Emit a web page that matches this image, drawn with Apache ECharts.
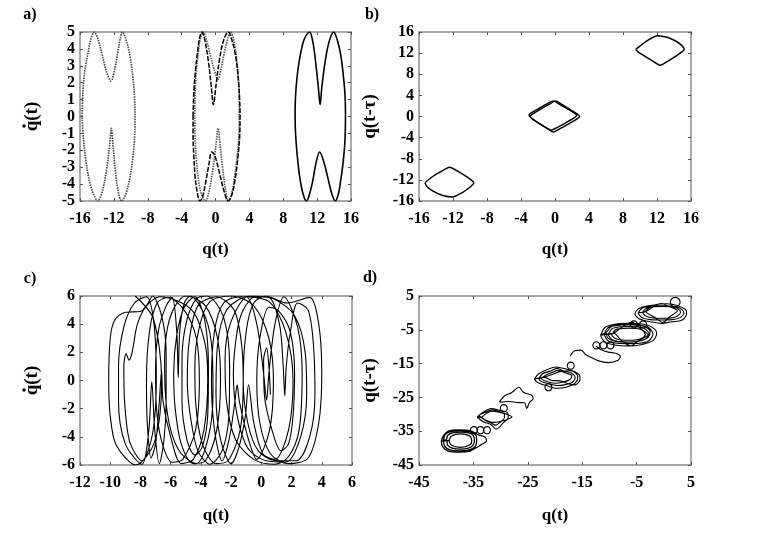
<!DOCTYPE html>
<html><head><meta charset="utf-8">
<script src="https://cdn.jsdelivr.net/npm/echarts@6/dist/echarts.min.js"></script>
<style>html,body{margin:0;padding:0;background:#fff}#c{width:767px;height:545px}</style>
</head><body><div id="c"></div>
<script>
// ---------- panel a: q(t) vs q'(t) ----------
const aTicksX = {min:-16, max:16, interval:4};
const aTicksY = {min:-5, max:5, interval:1};
const aLeft = [[-15.75,0],[-15.65,1.5],[-15.4,2.8],[-15.0,3.9],[-14.7,4.6],[-14.3,5],[-13.9,4.6],[-13.4,3.7],[-12.9,2.7],[-12.35,2.1],[-11.9,2.8],[-11.5,3.9],[-11.25,4.6],[-11.0,5],[-10.6,4.6],[-10.1,3.6],[-9.75,2.3],[-9.55,1],[-9.5,0],[-9.55,-1.2],[-9.75,-2.4],[-10.1,-3.6],[-10.6,-4.6],[-11.1,-5],[-11.5,-4.4],[-11.85,-3.1],[-12.1,-1.7],[-12.3,-0.7],[-12.5,-1.7],[-12.85,-3.1],[-13.35,-4.4],[-13.9,-5],[-14.4,-4.6],[-14.9,-3.8],[-15.3,-2.6],[-15.6,-1.3],[-15.75,0]];
const aMidBlack = [[-2.65,0],[-2.55,1.5],[-2.35,2.8],[-2.1,3.9],[-1.9,4.6],[-1.6,5],[-1.25,4.5],[-0.85,3.3],[-0.5,1.8],[-0.25,0.7],[0.05,1.8],[0.45,3.3],[0.95,4.5],[1.5,5],[1.95,4.5],[2.4,3.5],[2.7,2.2],[2.85,1],[2.9,0],[2.85,-1.2],[2.65,-2.4],[2.35,-3.6],[1.95,-4.6],[1.5,-5],[1.0,-4.4],[0.4,-3.2],[-0.1,-2.3],[-0.45,-2.1],[-0.8,-2.9],[-1.2,-4.0],[-1.55,-4.8],[-1.85,-5],[-2.15,-4.5],[-2.4,-3.6],[-2.55,-2.4],[-2.65,-1.2],[-2.65,0]];
const aMidGray = [[-2.45,0],[-2.4,1.5],[-2.25,2.8],[-2.0,3.9],[-1.8,4.6],[-1.45,5],[-1.05,4.5],[-0.55,3.5],[-0.05,2.6],[0.3,2.2],[0.65,2.8],[1.05,3.8],[1.45,4.6],[1.8,5],[2.2,4.4],[2.5,3.4],[2.7,2.2],[2.8,1],[2.8,0],[2.75,-1.2],[2.55,-2.4],[2.25,-3.6],[1.9,-4.6],[1.55,-5],[1.2,-4.4],[0.85,-3.1],[0.55,-1.7],[0.3,-0.7],[0.05,-1.7],[-0.3,-3.1],[-0.75,-4.4],[-1.2,-5],[-1.65,-4.6],[-2.0,-3.8],[-2.25,-2.6],[-2.4,-1.3],[-2.45,0]];
const aRight = [[15.35,0],[15.28,-1.5],[15.05,-2.8],[14.75,-3.9],[14.5,-4.6],[14.15,-5],[13.75,-4.6],[13.3,-3.7],[12.8,-2.7],[12.3,-2.1],[11.85,-2.8],[11.45,-3.9],[11.1,-4.6],[10.75,-5],[10.35,-4.6],[9.95,-3.6],[9.65,-2.3],[9.45,-1],[9.4,0],[9.45,1.2],[9.65,2.4],[10.0,3.6],[10.5,4.6],[11.1,5],[11.5,4.4],[11.85,3.1],[12.15,1.7],[12.35,0.7],[12.55,1.7],[12.9,3.1],[13.4,4.4],[13.95,5],[14.4,4.5],[14.8,3.6],[15.1,2.4],[15.3,1.2],[15.35,0]];

// ---------- panel b: q(t) vs q(t-tau) ----------
const bTicksX = {min:-16, max:16, interval:4};
const bTicksY = {min:-16, max:16, interval:4};
const bUpper = [[9.5,12.7],[10.2,13.6],[11.0,14.5],[12.0,15.3],[13.2,15.0],[14.3,14.2],[15.0,13.3],[15.2,12.7],[14.8,12.1],[14.0,11.2],[13.2,10.4],[12.4,9.7],[11.5,10.5],[10.5,11.5],[9.8,12.2],[9.5,12.7]];
const bLower = [[-15.3,-12.55],[-14.6,-11.6],[-13.5,-10.5],[-12.4,-9.6],[-11.5,-10.3],[-10.5,-11.3],[-9.8,-12.1],[-9.55,-12.6],[-10.1,-13.5],[-10.9,-14.4],[-12.05,-15.25],[-13.3,-14.9],[-14.4,-14.1],[-15.1,-13.2],[-15.3,-12.55]];
const bCenter1 = [[-2.95,0.05],[-2.6,0.5],[-1.6,1.5],[-0.6,2.4],[0.1,2.95],[0.7,2.4],[1.7,1.4],[2.6,0.5],[2.9,0],[2.6,-0.45],[1.6,-1.4],[0.6,-2.3],[-0.2,-2.95],[-0.8,-2.4],[-1.8,-1.4],[-2.7,-0.45],[-2.95,0.05]];
const bCenter2 = [[-3.1,0.3],[-2.75,0.75],[-1.8,1.65],[-0.85,2.5],[-0.2,2.95],[0.4,2.45],[1.35,1.55],[2.25,0.7],[2.55,0.25],[2.3,-0.2],[1.35,-1.1],[0.35,-2.0],[-0.45,-2.6],[-1.05,-2.1],[-2.05,-1.1],[-2.85,-0.2],[-3.1,0.3]];

// ---------- panel c: q(t) vs q'(t), chaotic ----------
const cTicksX = {min:-12, max:6, interval:2};
const cTicksY = {min:-6, max:6, interval:2};
const cTraj = [
 [-8.35,6.0],[-7.15,4.4],[-6.6,0],[-7.05,-4.3],[-8.3,-6.0],[-9.6,-4.6],[-10.0,-2.5],[-10.1,0],[-10.0,3.0],[-9.7,4.3],[-9.0,4.85],[-8.0,4.9],[-7.55,5.4],
 [-7.2,6.0],[-6.6,4.6],[-6.3,2.0],[-6.3,-1.5],[-6.45,-4.3],[-6.75,-5.9],[-7.05,-3.6],[-7.25,-0.1],[-7.45,-3.6],[-7.9,-5.95],[-9.0,-4.5],[-9.45,-1.5],[-9.45,1.0],[-9.1,3.8],[-8.4,5.5],
 [-7.6,5.95],[-7.1,4.0],[-6.95,0],[-7.2,-3.8],[-7.9,-5.7],[-8.7,-4.4],[-9.05,-1.5],[-9.1,1.0],[-8.95,1.9],[-8.75,1.45],[-8.55,2.0],[-8.2,4.0],[-7.6,5.3],
 [-6.7,5.95],[-4.6,5.0],[-3.7,2.5],[-3.55,0],[-3.8,-3.5],[-4.5,-5.6],[-5.3,-5.9],[-6.0,-4.0],[-6.5,-1.5],[-6.6,0.7],[-6.75,-1.5],[-7.0,-4.5],[-7.3,-5.5],[-7.55,-3.0],[-7.6,0],[-7.4,3.5],[-6.9,5.5],
 [-6.2,5.9],[-5.1,5.0],[-4.3,3.0],[-4.1,0],[-4.35,-3.5],[-5.2,-5.6],[-5.9,-5.8],[-6.6,-4.3],[-6.95,-1.8],[-7.0,0.8],[-6.8,3.6],[-6.3,5.3],
 [-5.9,5.9],[-5.6,3.5],[-5.5,0.2],[-5.4,3.5],[-5.1,5.5],[-4.7,6.0],[-3.7,4.5],[-3.25,2.0],[-3.2,-1.0],[-3.5,-4.0],[-4.3,-5.9],[-5.3,-5.2],[-6.0,-3.5],[-6.35,-1.0],[-6.4,1.5],[-6.2,3.8],[-5.7,5.3],
 [-5.0,6.0],[-3.7,5.3],[-2.9,3.0],[-2.7,0],[-2.95,-3.5],[-3.7,-5.7],[-4.5,-5.9],[-5.3,-4.5],[-5.7,-2.0],[-5.8,0.5],[-5.6,3.2],[-5.1,5.2],
 [-4.4,5.95],[-3.75,4.3],[-3.5,1.0],[-3.55,-2.5],[-3.9,-4.7],[-4.4,-5.3],[-4.9,-4.3],[-5.25,-1.5],[-5.25,1.5],[-4.95,4.2],[-4.3,5.8],
 [-3.6,6.0],[-2.5,4.5],[-2.1,1.0],[-2.15,-2.5],[-2.6,-5.0],[-3.4,-5.95],[-4.2,-5.0],[-4.7,-2.5],[-4.9,0],[-4.75,3.0],[-4.2,5.3],
 [-3.0,5.95],[-1.8,5.0],[-1.3,2.5],[-1.2,0],[-1.4,-3.5],[-2.2,-5.7],[-3.0,-5.9],[-3.9,-4.5],[-4.35,-1.5],[-4.4,1.0],[-4.1,3.8],[-3.4,5.6],
 [-2.0,6.0],[-0.5,5.3],[0.5,3.0],[0.8,0],[0.55,-3.5],[-0.3,-5.6],[-0.9,-4.0],[-1.45,-1.5],[-1.6,-0.3],[-1.75,-1.5],[-2.1,-4.0],[-2.6,-5.7],[-3.1,-3.5],[-3.3,0],[-3.1,3.5],[-2.5,5.5],
 [-1.4,5.95],[0.5,5.6],[1.6,3.5],[2.1,0],[1.8,-3.5],[0.9,-5.6],[0.1,-5.2],[-0.5,-3.0],[-0.85,-0.3],[-1.05,-2.5],[-1.5,-4.8],[-2.0,-5.9],[-2.7,-4.2],[-3.0,-1.0],[-2.9,2.5],[-2.3,5.0],
 [-1.0,5.95],[-0.3,4.0],[0.15,0.5],[0.35,-1.4],[0.5,0.5],[0.9,4.0],[1.5,5.95],[2.4,3.8],[2.7,0.5],[2.5,-3.5],[1.8,-5.4],[0.9,-5.95],[-0.5,-5.6],[-1.7,-4.2],[-2.3,-1.5],[-2.4,1.5],[-2.0,4.2],
 [-0.8,6.0],[0.8,5.8],[2.2,4.6],[2.9,2.0],[3.0,-1.0],[2.6,-4.0],[1.6,-5.8],[0.3,-5.7],[-0.9,-4.8],[-1.6,-2.5],[-1.85,0.5],[-1.6,3.5],[-1.2,5.0],
 [-0.4,5.95],[0.5,5.9],[1.2,4.0],[1.45,1.0],[1.55,-1.1],[1.65,1.0],[1.9,3.3],[2.4,5.5],[3.1,5.0],[3.45,2.5],[3.55,-1.0],[3.2,-4.0],[2.3,-5.7],[1.0,-5.7],[-0.2,-5.0],[-0.9,-3.0],[-1.2,0],[-1.0,3.5],[-0.5,5.5],
 [0.3,6.0],[1.7,5.5],[3.2,5.9],[3.8,4.0],[4.0,0.5],[3.8,-3.0],[3.1,-5.5],[1.8,-5.9],[0.6,-5.2],[-0.1,-3.0],[-0.3,0],[-0.1,3.0],[0.5,5.2],
 [1.1,5.0],[1.9,3.5],[2.2,0.5],[2.1,-2.5],[1.8,-4.5],[1.3,-5.0],[0.7,-3.5],[0.2,-1.0],[0.15,1.5],[0.35,2.3],[0.5,1.0],[0.6,-1.0]
];

// ---------- panel d: q(t) vs q(t-tau), drifting ----------
const dTicks = [-45,-35,-25,-15,-5,5];
const dClusterA = [[-40.5,-37.8],[-40.2,-36.0],[-39.3,-35.2],[-37.5,-34.9],[-35.8,-35.1],[-34.6,-36.0],[-34.4,-37.8],[-34.7,-39.6],[-35.7,-40.5],[-37.5,-40.8],[-39.3,-40.5],[-40.2,-39.6],[-40.5,-37.8],
 [-40.0,-37.6],[-39.7,-36.2],[-38.8,-35.5],[-37.3,-35.3],[-35.9,-35.5],[-35.0,-36.3],[-34.8,-37.7],[-35.1,-39.2],[-35.9,-40.0],[-37.4,-40.3],[-38.9,-40.0],[-39.7,-39.2],[-40.0,-37.6],
 [-40.9,-38.0],[-40.5,-36.3],[-39.6,-35.0],[-37.7,-34.6],[-35.6,-34.8],[-34.2,-36.0],[-32.8,-36.8],[-32.6,-38.0],[-33.5,-38.9],[-34.5,-39.9],[-35.6,-40.9],[-37.6,-41.2],[-39.6,-40.9],[-40.6,-39.7],[-40.9,-38.0],
 [-39.5,-37.7],[-39.1,-36.5],[-37.4,-35.8],[-35.7,-36.4],[-35.3,-37.8],[-35.7,-39.1],[-37.4,-39.8],[-39.1,-39.1],[-39.5,-37.7]];
const dClusterB = [[-34.3,-30.8],[-33.0,-29.2],[-31.7,-28.3],[-30.3,-28.8],[-28.7,-29.6],[-28.6,-31.0],[-29.5,-32.5],[-30.8,-34.4],[-31.8,-33.0],[-33.2,-32.2],[-34.3,-30.8],
 [-33.6,-30.9],[-32.6,-29.7],[-31.5,-29.1],[-30.3,-29.4],[-29.3,-30.0],[-29.3,-31.0],[-30.0,-32.2],[-30.9,-33.2],[-31.8,-32.5],[-32.8,-31.8],[-33.6,-30.9],
 [-34.0,-30.4],[-32.8,-29.4],[-31.6,-28.7],[-30.4,-29.1],[-29.0,-29.9],[-27.9,-30.8],[-28.9,-31.6],[-29.8,-32.0],[-31.2,-32.4],[-32.6,-31.8],[-34.0,-30.4]];
const dConnect1 = [[-30.2,-26.4],[-29.3,-24.6],[-28.0,-23.6],[-26.6,-22.0],[-25.8,-23.5],[-24.4,-24.3],[-24.0,-25.3],[-24.7,-26.5],[-25.2,-28.3],[-25.6,-26.6],[-27.0,-26.5],[-28.5,-26.2],[-30.2,-26.4]];
const dClusterC = [[-23.0,-19.5],[-22.3,-18.0],[-21.0,-17.3],[-19.6,-16.4],[-18.5,-17.2],[-17.0,-17.8],[-16.3,-19.2],[-16.8,-20.5],[-18.3,-21.3],[-19.6,-21.5],[-21.0,-21.0],[-22.4,-20.4],[-23.0,-19.5],
 [-22.5,-19.3],[-21.6,-18.3],[-20.5,-17.6],[-19.5,-17.0],[-18.0,-17.8],[-16.9,-18.6],[-17.3,-19.8],[-18.6,-20.5],[-20.0,-20.8],[-21.5,-20.3],[-22.5,-19.3],
 [-22.0,-19.0],[-20.5,-18.2],[-19.0,-17.3],[-17.2,-17.1],[-15.6,-18.2],[-15.4,-19.8],[-16.4,-21.3],[-17.8,-20.8],[-19.0,-20.1],[-20.6,-20.0],[-22.0,-19.0],
 [-23.8,-19.6],[-23.0,-18.0],[-21.5,-16.8],[-19.8,-16.0],[-18.0,-16.6],[-16.5,-17.4],[-15.8,-19.0],[-16.3,-20.8],[-18.0,-22.0],[-19.7,-22.3],[-21.6,-21.5],[-23.2,-20.6],[-23.8,-19.6]];
const dConnect2 = [[-17.2,-12.8],[-16.4,-11.2],[-15.2,-11.0],[-14.4,-12.3],[-13.3,-13.2],[-12.0,-14.2],[-10.2,-14.7],[-8.5,-14.1],[-8.0,-12.9],[-8.7,-12.0],[-10.2,-11.6],[-11.6,-10.8],[-12.5,-9.8]];
const dClusterD = [[-11.0,-6.3],[-10.2,-4.3],[-8.5,-3.7],[-6.5,-3.5],[-4.5,-3.7],[-2.8,-4.3],[-2.0,-6.3],[-2.8,-8.3],[-4.5,-9.0],[-6.5,-9.1],[-8.5,-9.0],[-10.2,-8.3],[-11.0,-6.3],
 [-10.3,-6.3],[-9.5,-4.7],[-8.0,-4.1],[-6.5,-4.0],[-5.0,-4.1],[-3.5,-4.7],[-2.7,-6.3],[-3.5,-7.9],[-5.0,-8.5],[-6.5,-8.6],[-8.0,-8.5],[-9.5,-7.9],[-10.3,-6.3],
 [-9.6,-6.3],[-8.9,-5.0],[-7.6,-4.6],[-6.5,-4.5],[-5.2,-4.6],[-4.1,-5.0],[-3.4,-6.3],[-4.1,-7.6],[-5.2,-8.0],[-6.5,-8.1],[-7.6,-8.0],[-8.9,-7.6],[-9.6,-6.3],
 [-9.2,-6.0],[-7.6,-4.2],[-5.9,-2.8],[-4.3,-4.6],[-2.9,-6.5],[-4.5,-8.1],[-6.1,-9.8],[-7.8,-8.2],[-9.2,-6.0],
 [-11.6,-6.6],[-10.8,-4.3],[-8.8,-3.3],[-6.5,-3.1],[-4.0,-3.3],[-2.2,-4.2],[-1.3,-6.0],[-2.0,-8.2],[-4.2,-9.4],[-6.6,-9.8],[-9.0,-9.5],[-10.9,-8.5],[-11.6,-6.6],
 [-10.6,-5.8],[-9.6,-4.0],[-7.5,-3.4],[-5.5,-3.5],[-3.6,-4.0],[-2.5,-5.5],[-2.9,-7.3],[-4.5,-8.3],[-6.8,-8.7],[-9.0,-8.4],[-10.3,-7.4],[-10.6,-5.8]];
const dClusterE = [[-4.7,0.0],[-4.0,1.4],[-2.4,2.0],[-0.5,2.1],[1.5,2.0],[3.0,1.4],[3.7,0.0],[3.0,-1.4],[1.5,-2.0],[-0.5,-2.1],[-2.4,-2.0],[-4.0,-1.4],[-4.7,0.0],
 [-3.9,0.2],[-3.3,1.3],[-1.9,1.8],[-0.3,1.9],[1.3,1.8],[2.5,1.3],[3.1,0.2],[2.5,-0.9],[1.3,-1.5],[-0.3,-1.6],[-1.9,-1.5],[-3.3,-0.9],[-3.9,0.2],
 [-3.3,0.4],[-1.8,1.9],[-0.5,2.8],[0.8,2.0],[2.5,0.6],[1.2,-1.0],[-0.2,-2.8],[-1.6,-1.4],[-3.3,0.4],
 [-1.5,2.4],[0.5,2.7],[2.5,2.2],[4.0,1.0],[4.2,-0.2],[3.3,-2.2],[1.5,-2.6],[-0.5,-3.1],[-2.5,-2.6],[-4.5,-1.8],[-5.3,-0.3],[-4.5,1.4],[-1.5,2.4]];
const dCircles = [
 [[-34.25,-34.7],[-34.44,-33.96],[-34.9,-33.65],[-35.36,-33.96],[-35.55,-34.7],[-35.36,-35.44],[-34.9,-35.75],[-34.44,-35.44],[-34.25,-34.7]],
 [[-33.05,-34.7],[-33.24,-33.96],[-33.7,-33.65],[-34.16,-33.96],[-34.35,-34.7],[-34.16,-35.44],[-33.7,-35.75],[-33.24,-35.44],[-33.05,-34.7]],
 [[-31.85,-34.7],[-32.04,-33.96],[-32.5,-33.65],[-32.96,-33.96],[-33.15,-34.7],[-32.96,-35.44],[-32.5,-35.75],[-32.04,-35.44],[-31.85,-34.7]],
 [[-28.75,-28.2],[-28.94,-27.46],[-29.4,-27.15],[-29.86,-27.46],[-30.05,-28.2],[-29.86,-28.94],[-29.4,-29.25],[-28.94,-28.94],[-28.75,-28.2]],
 [[-20.55,-22.0],[-20.74,-21.26],[-21.2,-20.95],[-21.66,-21.26],[-21.85,-22.0],[-21.66,-22.74],[-21.2,-23.05],[-20.74,-22.74],[-20.55,-22.0]],
 [[-16.45,-15.6],[-16.64,-14.86],[-17.1,-14.55],[-17.56,-14.86],[-17.75,-15.6],[-17.56,-16.34],[-17.1,-16.65],[-16.64,-16.34],[-16.45,-15.6]],
 [[-11.75,-9.6],[-11.94,-8.86],[-12.4,-8.55],[-12.86,-8.86],[-13.05,-9.6],[-12.86,-10.34],[-12.4,-10.65],[-11.94,-10.34],[-11.75,-9.6]],
 [[-10.45,-9.6],[-10.64,-8.86],[-11.1,-8.55],[-11.56,-8.86],[-11.75,-9.6],[-11.56,-10.34],[-11.1,-10.65],[-10.64,-10.34],[-10.45,-9.6]],
 [[-9.15,-9.6],[-9.34,-8.86],[-9.8,-8.55],[-10.26,-8.86],[-10.45,-9.6],[-10.26,-10.34],[-9.8,-10.65],[-9.34,-10.34],[-9.15,-9.6]],
 [[-4.85,-3.4],[-5.04,-2.66],[-5.5,-2.35],[-5.96,-2.66],[-6.15,-3.4],[-5.96,-4.14],[-5.5,-4.45],[-5.04,-4.14],[-4.85,-3.4]],
 [[-3.15,-3.4],[-3.34,-2.66],[-3.8,-2.35],[-4.26,-2.66],[-4.45,-3.4],[-4.26,-4.14],[-3.8,-4.45],[-3.34,-4.14],[-3.15,-3.4]],
 [[3.0,3.2],[2.74,4.19],[2.1,4.6],[1.46,4.19],[1.2,3.2],[1.46,2.21],[2.1,1.8],[2.74,2.21],[3.0,3.2]]
];

// ---------- chart ----------
const FONT = 'Liberation Serif';
const grids = [
  {left:80, top:32, width:271, height:169},
  {left:419, top:32, width:272, height:169},
  {left:80, top:296, width:272, height:169},
  {left:419, top:296, width:272, height:169}
];
const xNameStyle = {fontFamily:FONT, fontWeight:'bold', fontSize:17, color:'#000'};
const yNameStyle = {fontFamily:FONT, fontWeight:'bold', fontSize:19, color:'#000'};

function axisPair(kind, gi, spec, name, nameGap) {
  const base = () => ({
    gridIndex: gi, type:'value', min: spec.min, max: spec.max,
    axisLine:{show:true, onZero:false, lineStyle:{color:'#8c8c8c', width:1.5}},
    axisTick:{show:true, inside:true, length:3, lineStyle:{color:'#555', width:1}},
    splitLine:{show:false}
  });
  const main = base(), mirror = base();
  if (spec.interval) { main.interval = spec.interval; mirror.interval = spec.interval; }
  if (spec.custom) { main.axisTick.customValues = spec.custom; mirror.axisTick.customValues = spec.custom; }
  main.position = kind === 'x' ? 'bottom' : 'left';
  mirror.position = kind === 'x' ? 'top' : 'right';
  main.axisLabel = {show:true, margin: kind === 'x' ? 10 : 5, fontFamily:FONT, fontWeight:'bold', fontSize:16, color:'#000'};
  if (spec.custom) main.axisLabel.customValues = spec.custom;
  mirror.axisLabel = {show:false};
  main.name = name; main.nameLocation = 'middle'; main.nameGap = nameGap;
  main.nameTextStyle = kind === 'x' ? xNameStyle : yNameStyle;
  return [main, mirror];
}

const xAxis = [
  ...axisPair('x', 0, aTicksX, 'q(t)', 40),
  ...axisPair('x', 1, bTicksX, 'q(t)', 40),
  ...axisPair('x', 2, cTicksX, 'q(t)', 42),
  ...axisPair('x', 3, {min:-45, max:5, custom:dTicks}, 'q(t)', 42)
];
const yAxis = [
  ...axisPair('y', 0, aTicksY, 'q(t)', 38),
  ...axisPair('y', 1, bTicksY, 'q(t-\u03c4)', 39),
  ...axisPair('y', 2, cTicksY, 'q(t)', 38),
  ...axisPair('y', 3, {min:-45, max:5, custom:dTicks}, 'q(t-\u03c4)', 39)
];

function line(data, gi, style, smooth) {
  return {type:'line', data, xAxisIndex: gi*2, yAxisIndex: gi*2, showSymbol:false, symbol:'none',
    smooth: smooth === undefined ? 0.35 : smooth, lineStyle: style, silent:true, animation:false};
}
const solid = {color:'#000', width:1.1, type:'solid'};
const series = [
  line(aLeft, 0, {color:'#4a4a4a', width:1.7, type:[1.5,1]}),
  line(aMidGray, 0, {color:'#5a5a5a', width:1.7, type:[1.5,1]}),
  line(aMidBlack, 0, {color:'#000', width:1.5, type:[5,1.5]}),
  line(aRight, 0, {color:'#000', width:1.6}),
  line(bUpper, 1, {color:'#000', width:1.5}, 0.2),
  line(bLower, 1, {color:'#000', width:1.5}, 0.2),
  line(bCenter1, 1, {color:'#000', width:1.4}, 0.2),
  line(bCenter2, 1, {color:'#000', width:1.4}, 0.2),
  line(cTraj, 2, solid, 0.3),
  line(dClusterA, 3, {color:'#000', width:1.3}, 0.3),
  line(dClusterB, 3, solid, 0.3),
  line(dConnect1, 3, solid, 0.3),
  line(dClusterC, 3, solid, 0.3),
  line(dConnect2, 3, solid, 0.3),
  line(dClusterD, 3, solid, 0.3),
  line(dClusterE, 3, solid, 0.3),
  ...dCircles.map(c => line(c, 3, solid, 0.5))
];

const lbl = (t, x, y) => ({type:'text', x, y, style:{text:t, fill:'#000', font:'bold 16px "Liberation Serif"', textAlign:'center', textVerticalAlign:'middle'}});
const dot = (x, y) => ({type:'circle', shape:{cx:x, cy:y, r:1.7}, style:{fill:'#000'}});

const chart = echarts.init(document.getElementById('c'), null, {renderer:'canvas'});
chart.setOption({
  animation:false,
  backgroundColor:'#fff',
  grid: grids,
  xAxis, yAxis, series,
  graphic: [lbl('a)', 30, 15), lbl('b)', 372, 15), lbl('c)', 30, 279), lbl('d)', 370, 278),
            dot(24, 126), dot(24, 390)]
});
</script></body></html>
